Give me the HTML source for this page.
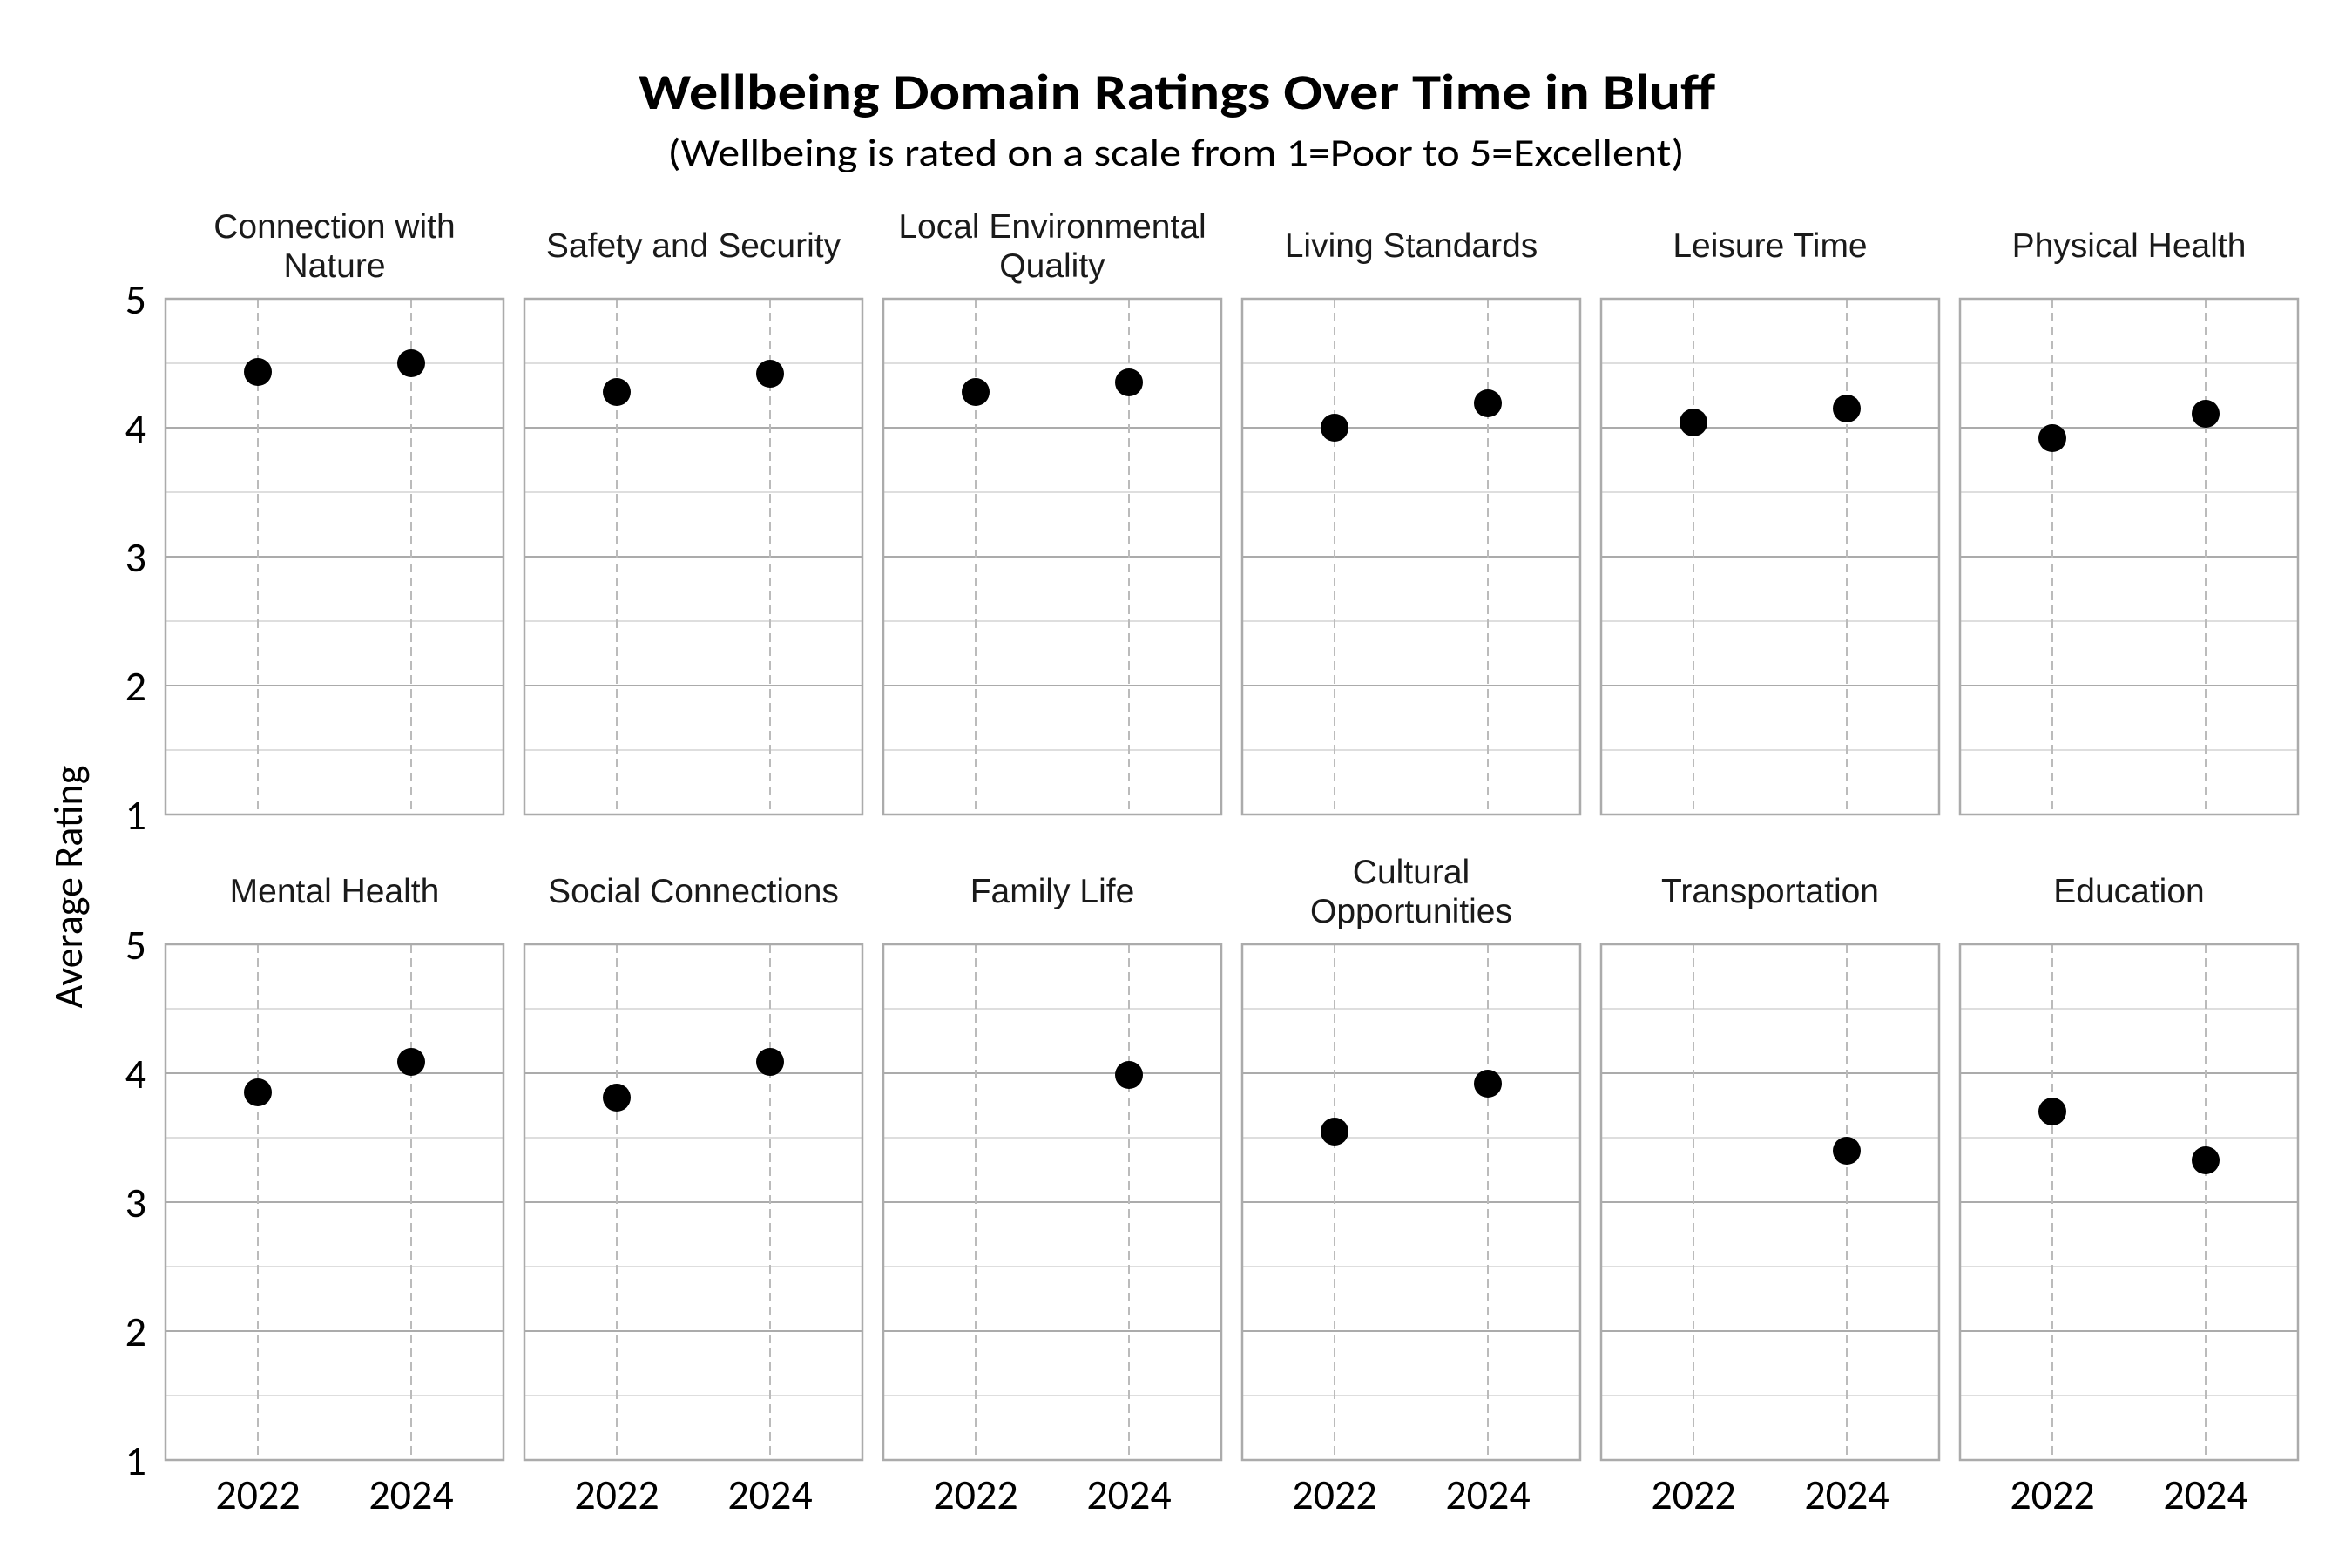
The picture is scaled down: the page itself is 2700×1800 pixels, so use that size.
<!DOCTYPE html>
<html><head><meta charset="utf-8"><style>html,body{margin:0;padding:0;background:#fff}svg{display:block}</style></head>
<body>
<svg width="2700" height="1800" viewBox="0 0 2700 1800" xmlns="http://www.w3.org/2000/svg">
<defs>
<g id="p">
<line x1="0" x2="388" y1="74" y2="74" stroke="#d4d4d4" stroke-width="1.5"/>
<line x1="0" x2="388" y1="222" y2="222" stroke="#d4d4d4" stroke-width="1.5"/>
<line x1="0" x2="388" y1="370" y2="370" stroke="#d4d4d4" stroke-width="1.5"/>
<line x1="0" x2="388" y1="518" y2="518" stroke="#d4d4d4" stroke-width="1.5"/>
<line x1="0" x2="388" y1="148" y2="148" stroke="#ababab" stroke-width="2"/>
<line x1="0" x2="388" y1="296" y2="296" stroke="#ababab" stroke-width="2"/>
<line x1="0" x2="388" y1="444" y2="444" stroke="#ababab" stroke-width="2"/>
<line x1="106" x2="106" y1="0" y2="592" stroke="#bbb" stroke-width="2" stroke-dasharray="10,6"/>
<line x1="282" x2="282" y1="0" y2="592" stroke="#bbb" stroke-width="2" stroke-dasharray="10,6"/>
<rect x="0" y="0" width="388" height="592" fill="none" stroke="#ababab" stroke-width="2.5"/>
</g>
</defs>
<text x="1351" y="125" font-family="Carlito, 'Liberation Sans', sans-serif" font-weight="bold" font-size="58" text-anchor="middle" textLength="1236" lengthAdjust="spacingAndGlyphs">Wellbeing Domain Ratings Over Time in Bluff</text>
<text x="1350" y="190" font-family="Carlito, 'Liberation Sans', sans-serif" font-size="44" text-anchor="middle" textLength="1167" lengthAdjust="spacingAndGlyphs">(Wellbeing is rated on a scale from 1=Poor to 5=Excellent)</text>
<text transform="translate(94,1018) rotate(-90)" font-family="Carlito, 'Liberation Sans', sans-serif" font-size="46" text-anchor="middle">Average Rating</text>

<g font-family="Carlito, 'Liberation Sans', sans-serif" font-size="48" text-anchor="end" fill="#000">
<text x="168" y="360">5</text><text x="168" y="508">4</text><text x="168" y="656">3</text><text x="168" y="804">2</text><text x="168" y="952">1</text>
<text x="168" y="1101">5</text><text x="168" y="1249">4</text><text x="168" y="1397">3</text><text x="168" y="1545">2</text><text x="168" y="1693">1</text>
</g>

<g transform="translate(190,343)"><use href="#p"/><circle cx="106" cy="84" r="16"/><circle cx="282" cy="74" r="16"/></g>
<g transform="translate(602,343)"><use href="#p"/><circle cx="106" cy="107" r="16"/><circle cx="282" cy="86" r="16"/></g>
<g transform="translate(1014,343)"><use href="#p"/><circle cx="106" cy="107" r="16"/><circle cx="282" cy="96" r="16"/></g>
<g transform="translate(1426,343)"><use href="#p"/><circle cx="106" cy="148" r="16"/><circle cx="282" cy="120" r="16"/></g>
<g transform="translate(1838,343)"><use href="#p"/><circle cx="106" cy="142" r="16"/><circle cx="282" cy="126" r="16"/></g>
<g transform="translate(2250,343)"><use href="#p"/><circle cx="106" cy="160" r="16"/><circle cx="282" cy="132" r="16"/></g>

<g transform="translate(190,1084)"><use href="#p"/><circle cx="106" cy="170" r="16"/><circle cx="282" cy="135" r="16"/></g>
<g transform="translate(602,1084)"><use href="#p"/><circle cx="106" cy="176" r="16"/><circle cx="282" cy="135" r="16"/></g>
<g transform="translate(1014,1084)"><use href="#p"/><circle cx="282" cy="150" r="16"/></g>
<g transform="translate(1426,1084)"><use href="#p"/><circle cx="106" cy="215" r="16"/><circle cx="282" cy="160" r="16"/></g>
<g transform="translate(1838,1084)"><use href="#p"/><circle cx="282" cy="237" r="16"/></g>
<g transform="translate(2250,1084)"><use href="#p"/><circle cx="106" cy="192" r="16"/><circle cx="282" cy="248" r="16"/></g>

<g font-family="'Liberation Sans', Arial, sans-serif" font-size="39" text-anchor="middle" fill="#1a1a1a">
<text x="384" y="273">Connection with</text><text x="384" y="318">Nature</text>
<text x="796" y="295">Safety and Security</text>
<text x="1208" y="273">Local Environmental</text><text x="1208" y="318">Quality</text>
<text x="1620" y="295">Living Standards</text>
<text x="2032" y="295">Leisure Time</text>
<text x="2444" y="295">Physical Health</text>
<text x="384" y="1036">Mental Health</text>
<text x="796" y="1036">Social Connections</text>
<text x="1208" y="1036">Family Life</text>
<text x="1620" y="1014">Cultural</text><text x="1620" y="1059">Opportunities</text>
<text x="2032" y="1036">Transportation</text>
<text x="2444" y="1036">Education</text>
</g>

<g font-family="Carlito, 'Liberation Sans', sans-serif" font-size="48" text-anchor="middle" fill="#000">
<text x="296" y="1732">2022</text><text x="472" y="1732">2024</text>
<text x="708" y="1732">2022</text><text x="884" y="1732">2024</text>
<text x="1120" y="1732">2022</text><text x="1296" y="1732">2024</text>
<text x="1532" y="1732">2022</text><text x="1708" y="1732">2024</text>
<text x="1944" y="1732">2022</text><text x="2120" y="1732">2024</text>
<text x="2356" y="1732">2022</text><text x="2532" y="1732">2024</text>
</g>
</svg>
</body></html>
